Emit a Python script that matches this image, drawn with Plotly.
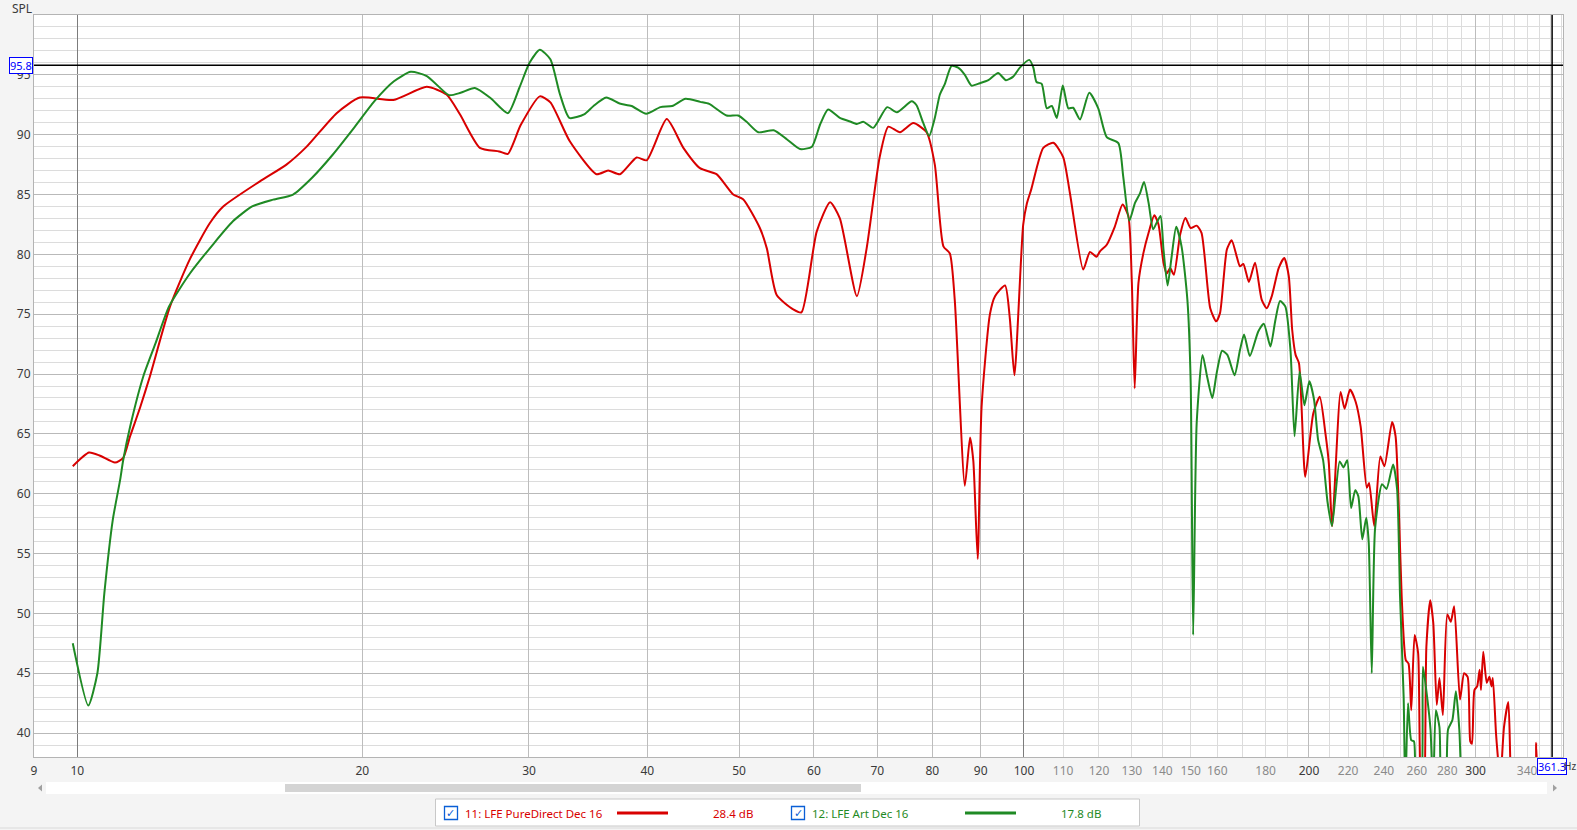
import numpy as np
import plotly.graph_objects as go

# ---------------- data ----------------
red_name = "11: LFE PureDirect Dec 16"
green_name = "12: LFE Art Dec 16"
red_level = "28.4 dB"
green_level = "17.8 dB"

red_freq = [9.89, 10.29, 10.57, 10.96, 11.18, 11.37, 11.65, 11.93, 12.53, 13.15, 13.8, 14.26,
            15.59, 16.63, 17.47, 18.79, 19.88, 21.57, 23.39, 24.55, 25.36, 26.62, 27.9, 28.5, 29.4,
            30.8, 31.6, 33.13, 35.35, 36.37, 37.43, 38.98, 39.94, 41.94, 43.67, 45.47, 47.34, 49.3,
            50.5, 52.6, 53.5, 54.8, 57.05, 58.2, 60.4, 62.4, 63.9, 66.6, 68.2, 70.4, 71.9, 73.96,
            76.4, 78.9, 80.5, 82.2, 83.5, 84.5, 86.6, 87.7, 88.4, 89.35, 90.2, 92.05, 93.2, 95.5,
            96.6, 97.7, 99.8, 100.7, 101.8, 104.8, 107.4, 110.0, 111.8, 115.5, 117.4, 119.3, 120.3,
            122.3, 124.7, 127.1, 128.9, 130.0, 130.9, 132.1, 133.7, 135.4, 137.3, 138.7, 140.4,
            141.5, 142.7, 144.0, 146.2, 148.1, 150.0, 152.2, 154.0, 157.3, 159.6, 161.1, 163.8,
            165.7, 167.8, 169.1, 170.5, 172.8, 175.4, 178.3, 180.5, 182.7, 185.8, 188.3, 190.4,
            192.0, 193.6, 195.2, 198.2, 202.1, 205.3, 208.2, 209.9, 211.6, 216.0, 218.1, 221.0,
            224.0, 226.8, 230.2, 231.5, 234.4, 237.9, 240.3, 244.8, 246.9, 249.0, 250.6, 253.1,
            254.8, 256.5, 258.6, 260.8, 262.5, 264.5, 266.1, 268.6, 270.6, 272.9, 274.7, 277.0,
            280.0, 282.4, 284.7, 288.8, 291.7, 294.2, 296.1, 297.3, 299.1, 301.1, 302.9, 303.9,
            305.6, 308.2, 310.2, 311.8, 312.8, 315.2, 316.4, 318.5, 321.4, 324.8, 326.6, 330.0,
            345.0, 347.6, 350.0]
red_spl = [62.3, 63.44, 63.17, 62.6, 63.0, 64.8, 67.2, 69.8, 75.65, 79.6, 82.6, 84.0,
           86.1, 87.5, 89.0, 91.8, 93.1, 92.9, 94.0, 93.35, 91.7, 88.9, 88.6, 88.4, 90.8,
           93.2, 92.7, 89.45, 86.7, 87.0, 86.7, 88.1, 87.86, 91.3, 88.9, 87.2, 86.7, 85.0,
           84.6, 82.2, 80.5, 76.6, 75.4, 75.15, 81.9, 84.35, 83.0, 76.5, 80.5, 88.13, 90.67, 90.2,
           90.97, 90.2, 87.5, 80.67, 80.07, 76.2, 60.67, 64.7, 62.76, 54.55, 67.24, 75.0, 76.5, 77.4,
           74.7, 69.9, 82.46, 84.25, 85.45, 88.9, 89.33, 88.13, 85.15, 78.73, 80.2, 79.8, 80.25,
           80.8, 82.3, 84.16, 83.2, 77.6, 68.8, 77.6, 80.1, 81.8, 83.26, 82.5, 79.3,
           78.4, 78.85, 78.3, 81.65, 83.04, 82.2, 82.4, 81.8, 75.5, 74.4, 75.1, 80.4,
           81.17, 79.8, 79.0, 79.2, 77.7, 79.3, 76.2, 75.5, 76.5, 78.85, 79.7, 78.2,
           73.7, 71.6, 70.9, 61.4, 66.7, 68.1, 65.0, 62.56, 57.3, 68.5, 67.1, 68.7,
           67.7, 65.6, 60.5, 60.9, 57.3, 63.1, 62.3, 66.0, 64.8, 58.1, 51.4, 46.1,
           45.8, 41.9, 48.2, 46.7, 36.0, 35.0, 47.2, 51.1, 49.2, 42.35, 44.6, 41.5,
           49.9, 49.3, 50.6, 42.8, 45.0, 44.7, 39.3, 39.1, 43.6, 43.9, 45.3, 43.6,
           46.8, 44.2, 44.7, 43.9, 44.6, 40.0, 38.3, 36.0, 40.5, 42.6, 37.0, 32.0,
           33.0, 39.2, 32.0]

green_freq = [9.89, 10.27, 10.5, 10.68, 10.9, 11.1, 11.18, 11.37, 11.74, 12.1, 12.5, 13.15, 13.9,
              14.6, 15.3, 16.1, 16.9, 17.7, 18.6, 19.6, 20.6, 21.6, 22.5, 23.4, 24.7, 25.4, 26.3,
              27.3, 28.5, 29.3, 30.04, 30.8, 31.6, 32.34, 33.1, 34.3, 35.1, 36.2, 37.4, 38.5,
              39.9, 41.3, 42.5, 43.9, 45.5, 46.5, 48.5, 49.9, 50.9, 52.4, 54.4, 56.2, 58.0,
              59.7, 60.9, 62.1, 63.9, 65.5, 66.6, 67.7, 69.3, 71.7, 73.4, 76.1, 77.0, 78.25,
              79.4, 80.5, 81.5, 82.5, 83.85, 85.2, 86.6, 88.0, 89.8, 91.7, 93.9, 95.7, 97.4,
              99.0, 101.3, 102.3, 103.1, 104.4, 105.7, 107.0, 108.3, 109.9, 111.4, 112.7, 114.6,
              117.2, 119.8, 122.3, 125.8, 127.3, 129.2, 131.0, 132.6, 133.9, 135.4, 136.9, 138.0,
              139.4, 140.4, 141.8, 143.2, 144.8, 146.7, 148.8, 150.0, 150.9, 152.2, 154.4, 156.1,
              158.1, 159.8, 161.9, 164.0, 166.9, 169.1, 170.8, 173.2, 176.8, 179.2, 182.1, 184.3,
              186.4, 188.8, 191.2, 193.1, 195.5, 197.8, 200.2, 202.5, 204.5, 207.0, 209.2, 211.5,
              215.5, 217.5, 219.5, 221.6, 223.8, 225.5, 227.7, 229.9, 231.3, 233.0, 234.9, 238.9,
              241.5, 245.4, 247.8, 249.6, 251.8, 252.8, 254.5, 256.5, 258.2, 259.8, 262.3, 263.9,
              266.6, 268.8, 270.5, 272.3, 274.7, 276.5, 278.5, 280.5, 283.5, 285.9, 288.3, 290.0,
              292.0]
green_spl = [47.5, 42.3, 45.0, 51.7, 57.8, 61.2, 62.8, 65.6, 69.8, 72.6, 75.65, 78.4, 80.8,
             82.76, 84.0, 84.57, 85.0, 86.4, 88.3, 90.57, 92.8, 94.46, 95.25, 94.9, 93.3, 93.5, 93.9,
             93.08, 91.8, 93.9, 96.0, 97.1, 96.3, 93.4, 91.4, 91.7, 92.4, 93.1, 92.6, 92.4,
             91.74, 92.3, 92.4, 93.0, 92.74, 92.57, 91.6, 91.6, 91.1, 90.2, 90.37, 89.6, 88.8,
             89.0, 90.85, 92.1, 91.4, 91.1, 90.9, 91.07, 90.57, 92.3, 91.87, 92.8, 92.46, 91.0,
             89.9, 91.4, 93.36, 94.25, 95.75, 95.6, 95.0, 94.1, 94.3, 94.55, 95.15, 94.55, 94.85,
             95.6, 96.25, 95.6, 94.4, 94.25, 92.2, 92.4, 91.4, 94.1, 92.2, 92.25, 91.27,
             93.5, 92.2, 89.8, 89.3, 86.5, 82.8, 84.3, 85.1, 86.05, 84.3, 82.1, 82.6,
             83.2, 80.4, 77.4, 79.8, 82.3, 80.67, 76.2, 69.25, 48.2, 65.9, 71.6, 69.8,
             68.0, 70.1, 71.95, 71.6, 69.9, 72.0, 73.3, 71.5, 73.56, 74.2, 72.3, 74.5,
             76.1, 75.65, 72.0, 64.8, 70.2, 67.4, 69.4, 67.85, 64.5, 62.8, 59.35, 57.3,
             62.7, 62.2, 62.8, 58.8, 60.3, 59.8, 56.2, 58.0, 55.9, 45.0, 57.1, 60.8,
             60.4, 62.45, 60.4, 51.4, 43.0, 35.0, 42.5, 39.4, 39.3, 35.0, 35.0, 45.55,
             43.0, 40.3, 35.0, 41.9, 40.5, 35.0, 35.0, 40.3, 41.1, 43.5, 40.3, 35.0,
             32.0]

x_tick_vals = [9, 10, 20, 30, 40, 50, 60, 70, 80, 90, 100, 110, 120, 130, 140, 150, 160, 180,
               200, 220, 240, 260, 280, 300, 340]
x_tick_strong = [9, 10, 20, 30, 40, 50, 60, 70, 80, 90, 100, 200, 300]
grid_dark = [10, 100]
grid_mid = [20, 30, 40, 50, 60, 70, 80, 90, 200, 300]
grid_light = [110, 120, 130, 140, 150, 160, 170, 180, 190, 210, 220, 230, 240, 250, 260,
              270, 280, 290, 310, 320, 330, 340, 350, 360, 370]
y_tick_vals = [40, 45, 50, 55, 60, 65, 70, 75, 80, 85, 90, 95]
freq_min, freq_max = 9.0, 371.0
spl_min, spl_max = 38.0, 100.0
cursor_freq = 361.3
cursor_spl = 95.8

# ---------------- style ----------------
RED = "#d80000"
GREEN = "#1f8a24"
TXT = "#3a3a3a"
TXT_LIGHT = "#8a8a8a"
BLUE = "#0000ff"
FONT = "Segoe UI, Noto Sans, Open Sans, sans-serif"

W, H = 1577, 830
PL, PR, PT, PB = 34, 1563, 15, 757


def px(xp):
    return (xp - PL) / (PR - PL)


def py(yp):
    return (PB - yp) / (PB - PT)


ticktext = []
for v in x_tick_vals:
    if v in x_tick_strong:
        ticktext.append(str(v))
    else:
        ticktext.append('<span style="color:%s">%d</span>' % (TXT_LIGHT, v))

fig = go.Figure()
fig.add_trace(go.Scatter(x=red_freq, y=red_spl, mode="lines", name=red_name,
                         line=dict(color=RED, width=2, shape="spline", smoothing=0.6),
                         hoverinfo="skip", showlegend=False))
fig.add_trace(go.Scatter(x=green_freq, y=green_spl, mode="lines", name=green_name,
                         line=dict(color=GREEN, width=2, shape="spline", smoothing=0.6),
                         hoverinfo="skip", showlegend=False))
# helper (empty) trace so that the overlay grid axis exists
fig.add_trace(go.Scatter(x=[None], y=[None], xaxis="x2", yaxis="y", mode="lines",
                         showlegend=False, hoverinfo="skip"))

xr = [np.log10(freq_min), np.log10(freq_max)]
fig.update_layout(
    width=W, height=H,
    margin=dict(l=PL, r=W - PR, t=PT, b=H - PB, autoexpand=False),
    paper_bgcolor="#f4f4f4", plot_bgcolor="#ffffff",
    font=dict(family=FONT, size=12, color=TXT),
    xaxis=dict(type="log", range=xr, tickmode="array", tickvals=x_tick_vals, ticktext=ticktext,
               showgrid=False, zeroline=False, ticks="", showline=True, mirror=True,
               linecolor="#b4b4b4", linewidth=1, automargin=False, ticklabelstandoff=3,
               tickfont=dict(family=FONT, size=12, color=TXT),
               minor=dict(tickmode="array", tickvals=grid_light, showgrid=True,
                          gridcolor="#dcdcdc", gridwidth=1, ticks="")),
    xaxis2=dict(type="log", range=xr, overlaying="x", anchor="y", side="bottom",
                tickmode="array", tickvals=grid_mid, showticklabels=False, ticks="",
                showgrid=True, gridcolor="#bdbdbd", gridwidth=1, zeroline=False, showline=False,
                automargin=False,
                minor=dict(tickmode="array", tickvals=grid_dark, showgrid=True,
                           gridcolor="#7c7c7c", gridwidth=1, ticks="")),
    yaxis=dict(range=[spl_min, spl_max], tickmode="array", tickvals=y_tick_vals,
               showgrid=True, gridcolor="#b9b9b9", gridwidth=1, zeroline=False, ticks="",
               showline=True, mirror=True, linecolor="#b4b4b4", linewidth=1, automargin=False,
               tickfont=dict(family=FONT, size=12, color=TXT),
               minor=dict(dtick=1, showgrid=True, gridcolor="#dcdcdc", gridwidth=1, ticks="")),
)

# cursor lines
fig.add_hline(y=cursor_spl, line=dict(color="#000000", width=1.5), layer="above")
fig.add_vline(x=cursor_freq, line=dict(color="#000000", width=1.5), layer="above")

ann = []
ann.append(dict(text="SPL", xref="paper", yref="paper", x=px(21.5), y=py(-2), xanchor="center",
                yanchor="top", showarrow=False, font=dict(family=FONT, size=12, color=TXT)))
ann.append(dict(text="%.1f" % cursor_spl, xref="paper", yref="y", x=px(33), y=cursor_spl,
                xanchor="right", yanchor="middle", showarrow=False, bgcolor="#ffffff",
                bordercolor=BLUE, borderwidth=1, borderpad=0,
                font=dict(family=FONT, size=11, color=BLUE)))
ann.append(dict(text="%.1f" % cursor_freq, xref="x", yref="paper", x=np.log10(cursor_freq),
                y=py(757.5), xanchor="center", yanchor="top", showarrow=False, bgcolor="#ffffff",
                bordercolor=BLUE, borderwidth=1, borderpad=0,
                font=dict(family=FONT, size=11, color=BLUE)))
ann.append(dict(text="Hz", xref="paper", yref="paper", x=px(1578), y=py(766), xanchor="right",
                yanchor="middle", showarrow=False, font=dict(family=FONT, size=10, color=TXT)))

# legend panel
LY = 813
LF = 11.5
ann.append(dict(text=red_name, xref="paper", yref="paper", x=px(463), y=py(LY), xanchor="left",
                yanchor="middle", showarrow=False, font=dict(family=FONT, size=LF, color=RED)))
ann.append(dict(text=red_level, xref="paper", yref="paper", x=px(733), y=py(LY), xanchor="center",
                yanchor="middle", showarrow=False, font=dict(family=FONT, size=LF, color=RED)))
ann.append(dict(text=green_name, xref="paper", yref="paper", x=px(810), y=py(LY), xanchor="left",
                yanchor="middle", showarrow=False, font=dict(family=FONT, size=LF, color=GREEN)))
ann.append(dict(text=green_level, xref="paper", yref="paper", x=px(1081), y=py(LY), xanchor="center",
                yanchor="middle", showarrow=False, font=dict(family=FONT, size=LF, color=GREEN)))
for cx in (451, 798):
    ann.append(dict(text="✓", xref="paper", yref="paper", x=px(cx), y=py(LY), xanchor="center",
                    yanchor="middle", showarrow=False,
                    font=dict(family="DejaVu Sans", size=11, color="#0a5fd6")))

shapes = []
# legend box
shapes.append(dict(type="rect", xref="paper", yref="paper", x0=px(435.5), x1=px(1139.5),
                   y0=py(799), y1=py(826), line=dict(color="#c8c8c8", width=1),
                   fillcolor="#ffffff", layer="below"))
for cx in (451, 798):
    shapes.append(dict(type="rect", xref="paper", yref="paper", x0=px(cx - 6.5), x1=px(cx + 6.5),
                       y0=py(LY - 6.5), y1=py(LY + 6.5), line=dict(color="#0a5fd6", width=1.3),
                       fillcolor="#ffffff"))
shapes.append(dict(type="line", xref="paper", yref="paper", x0=px(617), x1=px(668), y0=py(LY),
                   y1=py(LY), line=dict(color=RED, width=3)))
shapes.append(dict(type="line", xref="paper", yref="paper", x0=px(965), x1=px(1016), y0=py(LY),
                   y1=py(LY), line=dict(color=GREEN, width=3)))
# scroll bar
shapes.append(dict(type="rect", xref="paper", yref="paper", x0=px(46), x1=px(1547),
                   y0=py(782), y1=py(794), line=dict(width=0), fillcolor="#ffffff", layer="below"))
shapes.append(dict(type="rect", xref="paper", yref="paper", x0=px(285), x1=px(861),
                   y0=py(784), y1=py(792), line=dict(width=0), fillcolor="#d4d4d4", layer="below"))
shapes.append(dict(type="path", xref="paper", yref="paper",
                   path="M %f %f L %f %f L %f %f Z" % (px(42), py(784.5), px(38), py(788), px(42), py(791.5)),
                   line=dict(width=0), fillcolor="#a0a0a0"))
shapes.append(dict(type="path", xref="paper", yref="paper",
                   path="M %f %f L %f %f L %f %f Z" % (px(1553), py(784.5), px(1557), py(788), px(1553), py(791.5)),
                   line=dict(width=0), fillcolor="#a0a0a0"))
# status bar separator
shapes.append(dict(type="line", xref="paper", yref="paper", x0=px(0), x1=px(W), y0=py(828),
                   y1=py(828), line=dict(color="#dadada", width=1)))

fig.update_layout(annotations=ann, shapes=list(fig.layout.shapes) + shapes)

fig.write_html("out.html", config={"displayModeBar": False},
               post_script="document.body.style.margin='0';document.body.style.overflow='hidden';")
